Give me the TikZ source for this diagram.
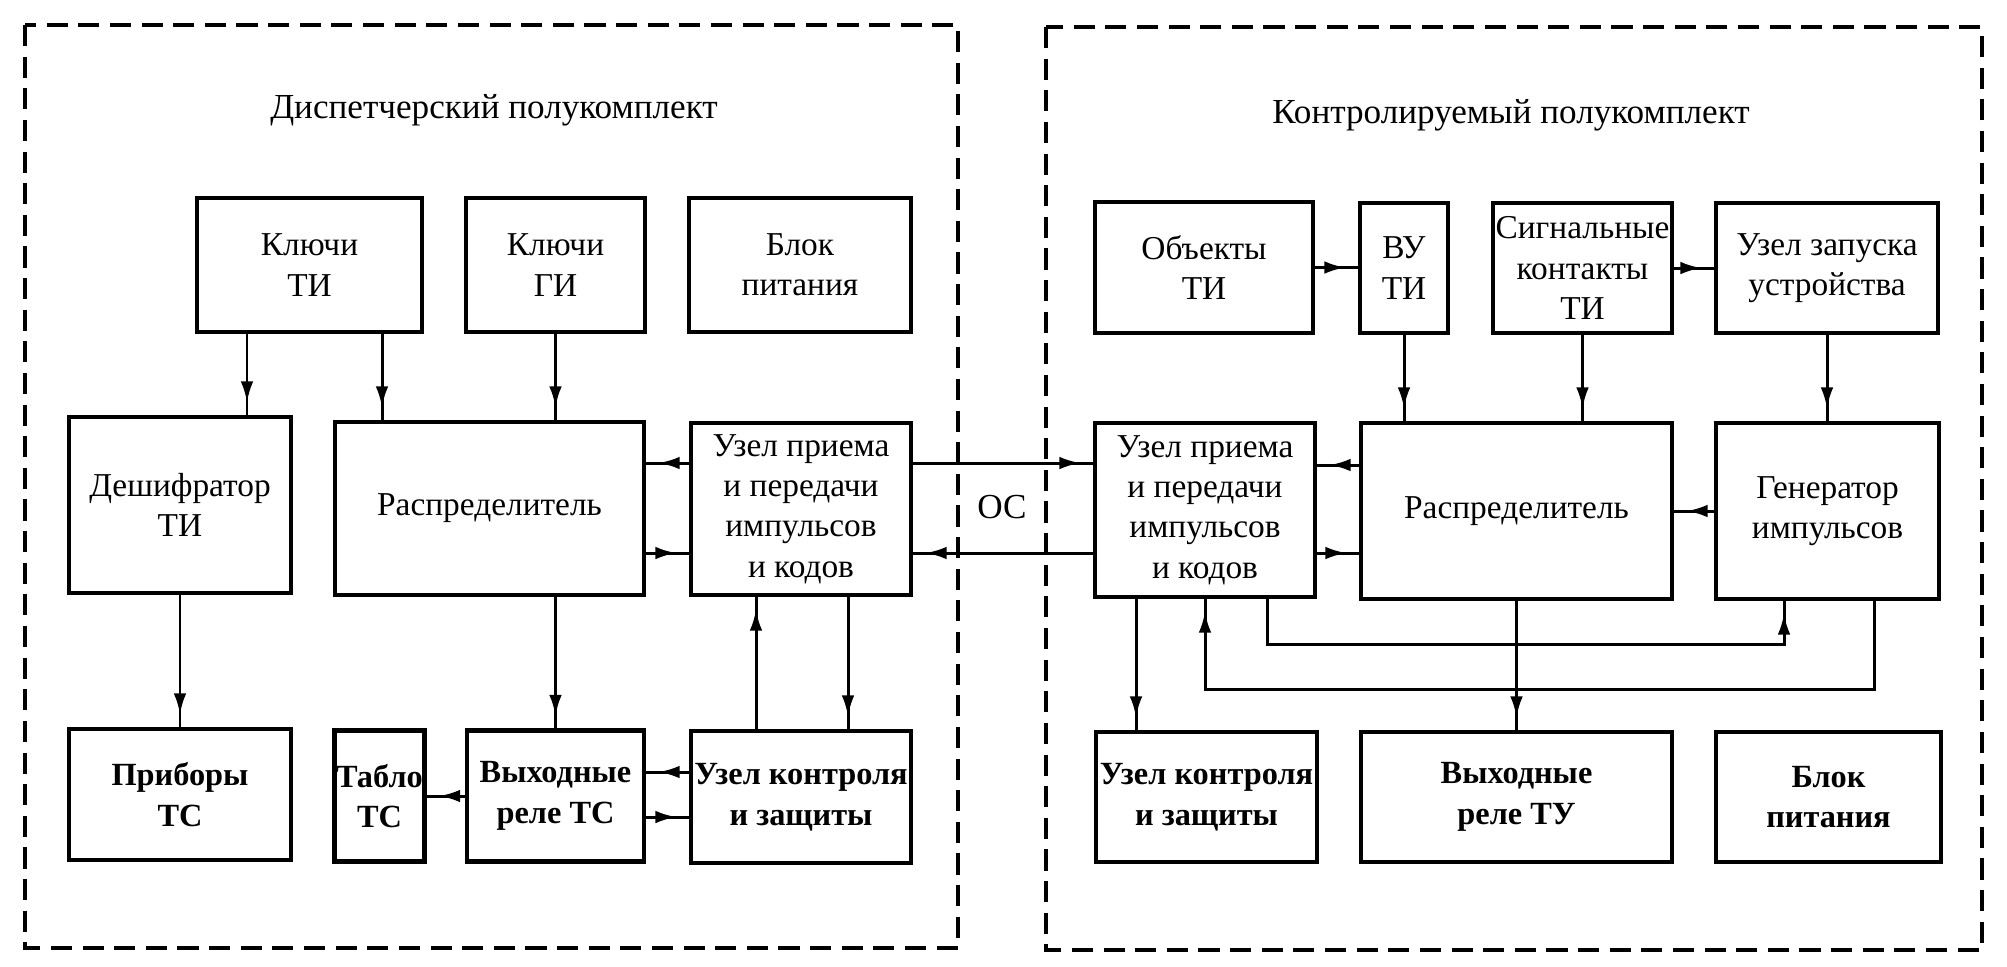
\documentclass[tikz,border=0pt]{standalone}
\usepackage{fontspec}
\setmainfont{Liberation Serif}
\usetikzlibrary{arrows.meta,decorations.markings}

\begin{document}
\begin{tikzpicture}[
    blk/.style={draw, line width=1.3pt, align=center, inner sep=0.5pt,
      font=\fontsize{9.5}{11.5}\selectfont},
    heavy/.style={font=\fontsize{9.2}{11.5}\selectfont\bfseries},
    flow/.style={line width=0.85pt, postaction={decorate},
      decoration={markings, mark=at position -3.5pt with {\arrow{Latex[length=6pt,width=3.6pt]}}}},
    half/.style={line width=0.9pt, dash pattern=on 6pt off 3pt}
  ]
  \path[fill=white] (0,0) rectangle (20.07,-9.66);

  % two halves of the set
  \draw[half] (0.25,-0.25) rectangle (9.58,-9.48);
  \draw[half] (10.46,-0.27) rectangle (19.82,-9.50);
  \node[font=\fontsize{10}{12}\selectfont] (ttl) at (4.94,-1.10) {Диспетчерский полукомплект};
  \node[font=\fontsize{10}{12}\selectfont] (ttr) at (15.11,-1.15) {Контролируемый полукомплект};

  % dispatcher half
  \node[blk, minimum width=2.25cm, minimum height=1.34cm] (kti) at (3.095,-2.65) {Ключи\\ТИ};
  \node[blk, minimum width=1.79cm, minimum height=1.34cm] (kgi) at (5.555,-2.65) {Ключи\\ГИ};
  \node[blk, minimum width=2.22cm, minimum height=1.34cm] (bpl) at (8.00,-2.65) {Блок\\питания};
  \node[blk, minimum width=2.22cm, minimum height=1.76cm] (desh) at (1.80,-5.05) {Дешифратор\\ТИ};
  \node[blk, minimum width=3.09cm, minimum height=1.73cm] (raspl) at (4.895,-5.085) {Распределитель};
  \node[blk, minimum width=2.20cm, minimum height=1.72cm] (uzpl) at (8.01,-5.09) {Узел приема\\и передачи\\импульсов\\и кодов};
  \node[blk, heavy, minimum width=2.22cm, minimum height=1.31cm] (prib) at (1.80,-7.945) {Приборы\\ТС};
  \node[blk, heavy, minimum width=0.89cm, minimum height=1.31cm] (tablo) at (3.795,-7.96) {Табло\\ТС};
  \node[blk, heavy, minimum width=1.77cm, minimum height=1.31cm] (vyhts) at (5.555,-7.96) {Выходные\\реле ТС};
  \node[blk, heavy, minimum width=2.20cm, minimum height=1.32cm] (uzkl) at (8.01,-7.97) {Узел контроля\\и защиты};

  % controlled half
  \node[blk, minimum width=2.18cm, minimum height=1.31cm] (obj) at (12.04,-2.675) {Объекты\\ТИ};
  \node[blk, minimum width=0.88cm, minimum height=1.30cm] (vu) at (14.04,-2.68) {ВУ\\ТИ};
  \node[blk, minimum width=1.79cm, minimum height=1.30cm] (sig) at (15.825,-2.68) {Сигнальные\\контакты\\ТИ};
  \node[blk, minimum width=2.22cm, minimum height=1.30cm] (zap) at (18.27,-2.68) {Узел запуска\\устройства};
  \node[blk, minimum width=2.20cm, minimum height=1.74cm] (uzpr) at (12.05,-5.10) {Узел приема\\и передачи\\импульсов\\и кодов};
  \node[blk, minimum width=3.11cm, minimum height=1.76cm] (raspr) at (15.165,-5.11) {Распределитель};
  \node[blk, minimum width=2.23cm, minimum height=1.76cm] (gen) at (18.275,-5.11) {Генератор\\импульсов};
  \node[blk, heavy, minimum width=2.21cm, minimum height=1.30cm] (uzkr) at (12.065,-7.97) {Узел контроля\\и защиты};
  \node[blk, heavy, minimum width=3.11cm, minimum height=1.30cm] (vyhtu) at (15.165,-7.97) {Выходные\\реле ТУ};
  \node[blk, heavy, minimum width=2.25cm, minimum height=1.30cm] (bpr) at (18.285,-7.97) {Блок\\питания};

  % links, dispatcher half
  \draw[flow] ([xshift=-6.25mm]kti.south) -- ([xshift=-6.25mm]kti.south |- desh.north);
  \draw[flow] ([xshift=7.25mm]kti.south) -- ([xshift=7.25mm]kti.south |- raspl.north);
  \draw[flow] (kgi.south) -- (kgi.south |- raspl.north);
  \draw[flow] ([yshift=4.6mm]uzpl.west) -- ([yshift=4.6mm]uzpl.west -| raspl.east);
  \draw[flow] ([yshift=-4.45mm]raspl.east) -- ([yshift=-4.45mm]raspl.east -| uzpl.west);
  \draw[flow] (desh) -- (prib);
  \draw[flow] (vyhts.north |- raspl.south) -- (vyhts.north);
  \draw[flow] ([xshift=-4.5mm]uzkl.north) -- ([xshift=-4.5mm]uzkl.north |- uzpl.south);
  \draw[flow] ([xshift=4.7mm]uzpl.south) -- ([xshift=4.7mm]uzpl.south |- uzkl.north);
  \draw[flow] (vyhts) -- (tablo);
  \draw[flow] ([yshift=2.5mm]uzkl.west) -- ([yshift=2.5mm]uzkl.west -| vyhts.east);
  \draw[flow] ([yshift=-2.1mm]vyhts.east) -- ([yshift=-2.1mm]vyhts.east -| uzkl.west);

  % communication line
  \draw[flow] ([yshift=4.6mm]uzpl.east) -- ([yshift=4.6mm]uzpl.east -| uzpr.west);
  \draw[flow] ([yshift=-4.3mm]uzpr.west) -- ([yshift=-4.3mm]uzpr.west -| uzpl.east);
  \node (oc) at (10.02,-5.07) {ОС};

  % links, controlled half
  \draw[flow] (obj.east) -- (obj.east -| vu.west);
  \draw[flow] (sig.east) -- (sig.east -| zap.west);
  \draw[flow] (vu.south) -- (vu.south |- raspr.north);
  \draw[flow] (sig.south) -- (sig.south |- raspr.north);
  \draw[flow] (zap.south) -- (zap.south |- gen.north);
  \draw[flow] ([yshift=4.6mm]raspr.west) -- ([yshift=4.6mm]raspr.west -| uzpr.east);
  \draw[flow] ([yshift=-4.3mm]uzpr.east) -- ([yshift=-4.3mm]uzpr.east -| raspr.west);
  \draw[flow] (gen.west) -- (gen.west -| raspr.east);
  \draw[flow] ([xshift=-6.9mm]uzpr.south) -- ([xshift=-6.9mm]uzpr.south |- uzkr.north);
  \draw[flow] (raspr.south) -- (raspr.south |- vyhtu.north);
  \draw[flow] ([xshift=4.65mm]gen.south) -- ++(0,-0.88) -| (uzpr.south);
  \draw[flow] ([xshift=6.2mm]uzpr.south) -- ++(0,-0.45) -| ([xshift=-4.35mm]gen.south);
\end{tikzpicture}
\end{document}
